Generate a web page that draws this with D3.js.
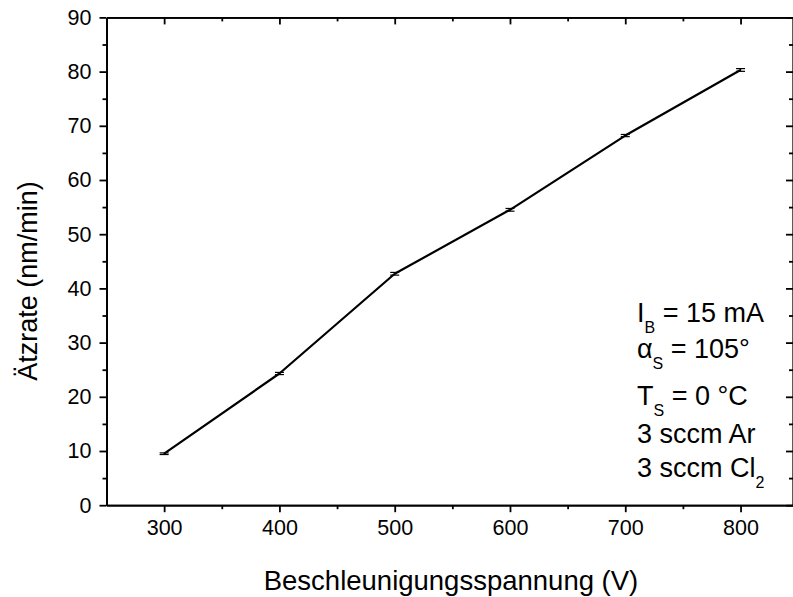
<!DOCTYPE html>
<html>
<head>
<meta charset="utf-8">
<script src="https://cdn.jsdelivr.net/npm/d3@7"></script>
<style>
  body { margin: 0; background: #fff; }
  svg { display: block; font-family: "Liberation Sans", Arial, Helvetica, sans-serif; }
  .axis path, .axis line { stroke: #000; stroke-width: 1.8; }
</style>
</head>
<body>
<div id="chart"></div>
<script>
// etch rate vs. beam acceleration voltage
var voltages = [300, 400, 500, 600, 700, 800];
var rates = [9.5, 24.3, 42.7, 54.5, 68.2, 80.3];
var rateErr = [0.15, 0.2, 0.25, 0.25, 0.2, 0.25];

var xMajor = [300, 400, 500, 600, 700, 800];
var xMinor = [350, 450, 550, 650, 750];
var yMajor = [0, 10, 20, 30, 40, 50, 60, 70, 80, 90];
var yMinor = [5, 15, 25, 35, 45, 55, 65, 75, 85];

var xTitle = 'Beschleunigungsspannung (V)';
var yTitle = 'Ätzrate (nm/min)';

// process parameters, [main, subscript, rest]
var notes = [
  ['I', 'B', ' = 15 mA'],
  ['α', 'S', ' = 105°'],
  ['T', 'S', ' = 0 °C'],
  ['3 sccm Ar', '', ''],
  ['3 sccm Cl', '2', '']
];
var noteBaselines = [322, 358, 405, 443, 477];

var width = 793, height = 597;
var plotLeft = 106.5, plotRight = 793, plotTop = 17.4, plotBottom = 505.2;

var svg = d3.select('#chart').append('svg')
  .attr('width', width)
  .attr('height', height);

var x = d3.scaleLinear().domain([250, 845.5]).range([plotLeft, plotRight]);
var y = d3.scaleLinear().domain([0, 90]).range([plotBottom, plotTop]);

var major = 7, minor = 4;

function addAxis(axis, tx, ty) {
  return svg.append('g').attr('class', 'axis')
    .attr('transform', 'translate(' + tx + ',' + ty + ')')
    .call(axis.tickSizeOuter(0))
    .attr('font-size', 21.5)
    .attr('font-family', null);
}

// bottom: outward ticks with labels
addAxis(d3.axisBottom(x).tickValues(xMajor).tickSize(major).tickPadding(8), 0, plotBottom);
addAxis(d3.axisBottom(x).tickValues(xMinor).tickSize(minor).tickFormat(''), 0, plotBottom);

// top: inward ticks
addAxis(d3.axisTop(x).tickValues(xMajor).tickSize(-major).tickFormat(''), 0, plotTop);
addAxis(d3.axisTop(x).tickValues(xMinor).tickSize(-minor).tickFormat(''), 0, plotTop);

// left: outward ticks with labels
addAxis(d3.axisLeft(y).tickValues(yMajor).tickSize(major).tickPadding(8), plotLeft, 0);
addAxis(d3.axisLeft(y).tickValues(yMinor).tickSize(minor).tickFormat(''), plotLeft, 0);

// right: inward ticks
addAxis(d3.axisRight(y).tickValues(yMajor).tickSize(-major).tickFormat(''), plotRight, 0);
addAxis(d3.axisRight(y).tickValues(yMinor).tickSize(-minor).tickFormat(''), plotRight, 0);

var points = voltages.map(function(v, i) {
  return { v: v, r: rates[i], e: rateErr[i] };
});

svg.append('path')
  .datum(points)
  .attr('fill', 'none')
  .attr('stroke', '#000')
  .attr('stroke-width', 2.2)
  .attr('stroke-linejoin', 'round')
  .attr('d', d3.line().x(d => x(d.v)).y(d => y(d.r)));

// error bars
var bars = svg.append('g').selectAll('g')
  .data(points)
  .enter()
  .append('g')
  .attr('stroke', '#000')
  .attr('stroke-width', 1.2);
bars.append('line')
  .attr('x1', d => x(d.v)).attr('x2', d => x(d.v))
  .attr('y1', d => y(d.r - d.e)).attr('y2', d => y(d.r + d.e));
bars.append('line')
  .attr('x1', d => x(d.v) - 4.5).attr('x2', d => x(d.v) + 4.5)
  .attr('y1', d => y(d.r + d.e)).attr('y2', d => y(d.r + d.e));
bars.append('line')
  .attr('x1', d => x(d.v) - 4.5).attr('x2', d => x(d.v) + 4.5)
  .attr('y1', d => y(d.r - d.e)).attr('y2', d => y(d.r - d.e));

// axis titles
svg.append('text')
  .attr('x', 451)
  .attr('y', 590)
  .attr('text-anchor', 'middle')
  .attr('font-size', 27.5)
  .text(xTitle);

svg.append('text')
  .attr('transform', 'translate(37,281) rotate(-90)')
  .attr('text-anchor', 'middle')
  .attr('font-size', 27)
  .text(yTitle);

// parameter block
var noteText = svg.append('g').attr('font-size', 27);
notes.forEach(function(n, i) {
  var t = noteText.append('text')
    .attr('x', 637)
    .attr('y', noteBaselines[i]);
  t.append('tspan').text(n[0]);
  if (n[1]) {
    t.append('tspan').attr('font-size', 16).attr('dy', 11).text(n[1]);
  }
  if (n[2]) {
    t.append('tspan').attr('dy', -11).text(n[2]);
  }
});
</script>
</body>
</html>
